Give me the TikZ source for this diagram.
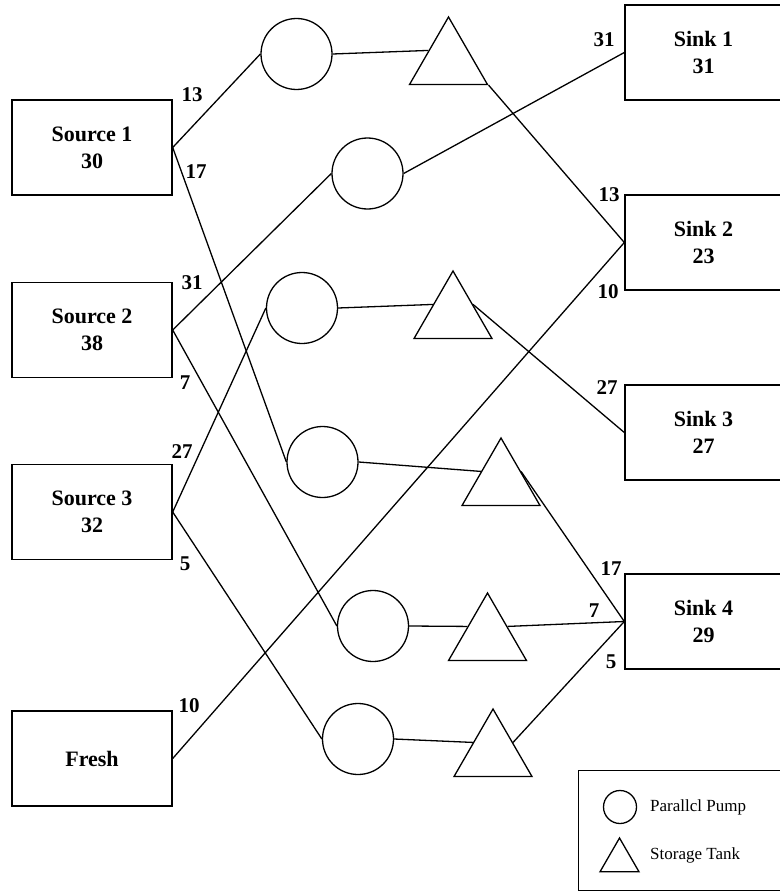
\documentclass[tikz,border=0pt]{standalone}
\usepackage{fontspec}
\setmainfont{Liberation Serif}
\usetikzlibrary{shapes.geometric}
\tikzset{
  box/.style={draw, line width=1.4pt, minimum width=160pt, minimum height=95pt, inner sep=0pt, align=center, font=\fontsize{22}{27}\selectfont\bfseries},
  sinkbox/.style={box, minimum width=157pt},
  pump/.style={draw, circle, line width=1.3pt, minimum size=71pt, inner sep=0pt},
  tank/.style={draw, regular polygon, regular polygon sides=3, line width=1.3pt, minimum size=90pt, inner sep=0pt},
  lbl/.style={inner sep=0pt, font=\fontsize{21}{25}\selectfont\bfseries},
  flow/.style={line width=1.3pt},
  legtext/.style={inner sep=0pt, anchor=west, font=\fontsize{17}{20}\selectfont}
}
\begin{document}
\begin{tikzpicture}[x=1pt, y=-1pt]
\useasboundingbox (0,0) rectangle (779,891);
% sources
\node[box] (S1) at (92,147.5) {Source 1\\30};
\node[box] (S2) at (92,330) {Source 2\\38};
\node[box] (S3) at (92,512) {Source 3\\32};
\node[box] (F) at (92,758.5) {Fresh};
% sinks
\node[sinkbox] (K1) at (703.5,52.5) {Sink 1\\31};
\node[sinkbox] (K2) at (703.5,242.5) {Sink 2\\23};
\node[sinkbox] (K3) at (703.5,432.5) {Sink 3\\27};
\node[sinkbox] (K4) at (703.5,621.5) {Sink 4\\29};
% pumps
\node[pump] (P1) at (296.5,54) {};
\node[pump] (P2) at (367.5,173.5) {};
\node[pump] (P3) at (302,308) {};
\node[pump] (P4) at (322.5,462) {};
\node[pump] (P5) at (373,626) {};
\node[pump] (P6) at (358,739) {};
% tanks
\node[tank] (T1) at (448.5,62) {};
\node[tank] (T2) at (453,316) {};
\node[tank] (T3) at (501,483) {};
\node[tank] (T4) at (487.5,638) {};
\node[tank] (T5) at (493,754) {};
% connectors
\draw[flow] (S1.east) -- (P1.west);
\draw[flow] (S1.east) -- (P4.west);
\draw[flow] (P1.east) -- (T1.side 1);
\draw[flow] (T1.corner 3) -- (K2.west);
\draw[flow] (S2.east) -- (P2.west);
\draw[flow] (P2.east) -- (K1.west);
\draw[flow] (S2.east) -- (P5.west);
\draw[flow] (S3.east) -- (P3.west);
\draw[flow] (S3.east) -- (P6.west);
\draw[flow] (F.east) -- (K2.west);
\draw[flow] (P3.east) -- (T2.side 1);
\draw[flow] (T2.side 3) -- (K3.west);
\draw[flow] (P4.east) -- (T3.side 1);
\draw[flow] (T3.side 3) -- (K4.west);
\draw[flow] (P5.east) -- (T4.side 1);
\draw[flow] (T4.side 3) -- (K4.west);
\draw[flow] (P6.east) -- (T5.side 1);
\draw[flow] (T5.side 3) -- (K4.west);
% flow labels
\node[lbl] (l13a) at (192,95) {13};
\node[lbl] (l17a) at (196,172) {17};
\node[lbl] (l31a) at (192,283) {31};
\node[lbl] (l7a) at (185,383) {7};
\node[lbl] (l27a) at (182,452) {27};
\node[lbl] (l5a) at (185,564) {5};
\node[lbl] (l10a) at (189,706) {10};
\node[lbl] (l31b) at (604,40) {31};
\node[lbl] (l13b) at (609,195) {13};
\node[lbl] (l10b) at (608,292) {10};
\node[lbl] (l27b) at (607,388) {27};
\node[lbl] (l17b) at (611,569) {17};
\node[lbl] (l7b) at (594,611) {7};
\node[lbl] (l5b) at (611,662) {5};
% legend
\node[draw, line width=1.4pt, minimum width=222pt, minimum height=120pt, inner sep=0pt, anchor=north west] (legend) at (578,770) {};
\node[pump, minimum size=33pt] (lp) at (620,807) {};
\node[tank, minimum size=45pt] (lt) at (619.5,860.5) {};
\node[legtext] (lpt) at (650,807) {Parallcl Pump};
\node[legtext] (ltt) at (650,855) {Storage Tank};
\end{tikzpicture}
\end{document}
